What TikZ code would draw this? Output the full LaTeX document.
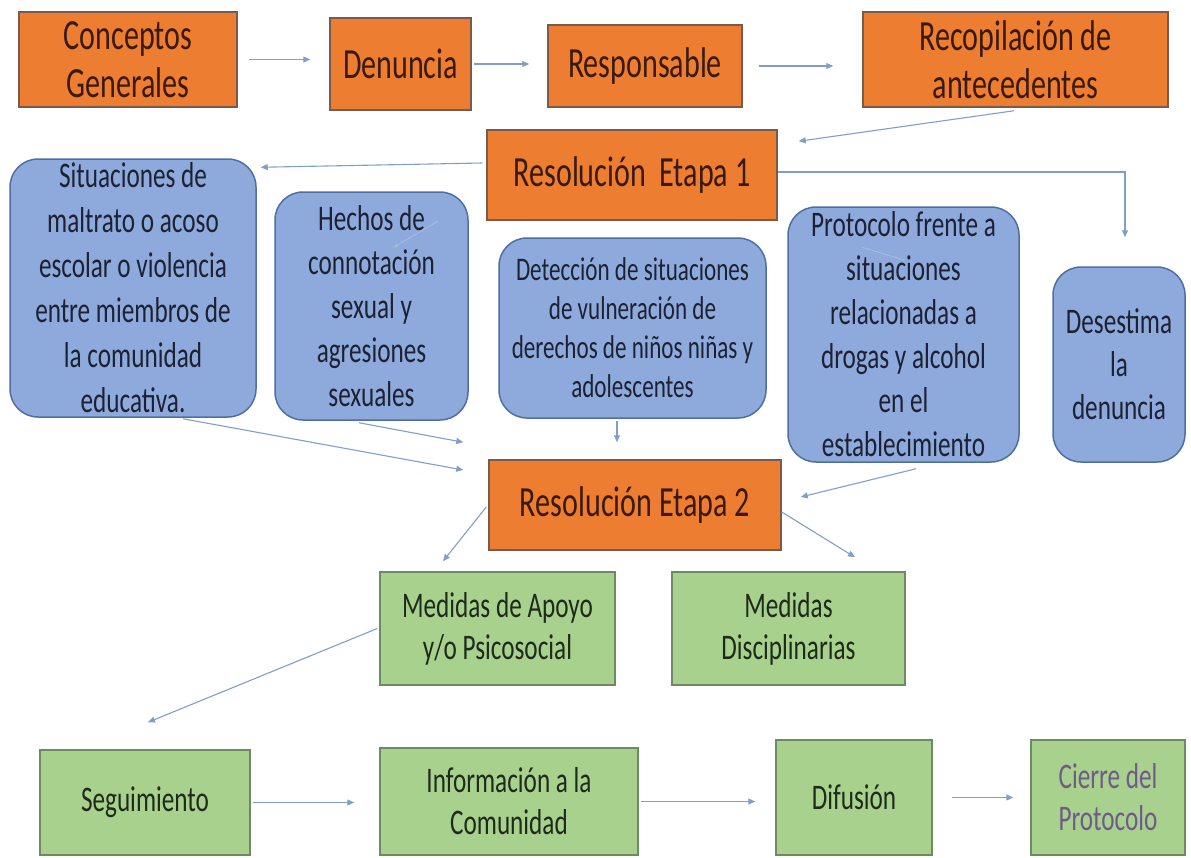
\documentclass[tikz,border=0pt]{standalone}
\usepackage{fontspec}
\setmainfont{Carlito}[FakeStretch=0.7]
\usetikzlibrary{arrows.meta}
\definecolor{ofill}{HTML}{ED7D31}
\definecolor{odraw}{HTML}{7A5A48}
\definecolor{otext}{HTML}{3A1A0E}
\definecolor{bfill}{HTML}{8EA9DB}
\definecolor{bdraw}{HTML}{4F6FA3}
\definecolor{btext}{HTML}{1C2233}
\definecolor{gfill}{HTML}{A9D18E}
\definecolor{gdraw}{HTML}{6E8A62}
\definecolor{gtext}{HTML}{1E2A1A}
\definecolor{ptext}{HTML}{6F5B8A}
\definecolor{arrc}{HTML}{7F9FC8}
\definecolor{faint}{HTML}{A9BEDF}
\tikzset{
  obox/.style={rectangle, fill=ofill, draw=odraw, line width=1.5pt, inner sep=0pt, align=center, text=otext, font=\fontsize{43}{48}\selectfont},
  bbox/.style={rectangle, rounded corners=28pt, fill=bfill, draw=bdraw, line width=1.5pt, inner sep=0pt, align=center, text=btext, font=\fontsize{36}{44}\selectfont},
  gbox/.style={rectangle, fill=gfill, draw=gdraw, line width=1.5pt, inner sep=0pt, align=center, text=gtext, font=\fontsize{36}{42}\selectfont},
  arr/.style={draw=arrc, line width=1.1pt, -{Triangle[length=7pt,width=6pt]}},
  stub/.style={draw=faint, line width=0.8pt}
}
\begin{document}
\begin{tikzpicture}[x=1pt,y=-1pt]
\useasboundingbox (0,0) rectangle (1191,857);
% top row
\node[obox, minimum width=218pt, minimum height=95pt] (concep) at (128,59.5) {Conceptos\\Generales};
\node[obox, minimum width=141pt, minimum height=92pt] (denun) at (400.5,64) {Denuncia};
\node[obox, minimum width=194pt, minimum height=82pt] (resp) at (645,66) {Responsable};
\node[obox, minimum width=305pt, minimum height=95pt] (recop) at (1015.5,59.5) {Recopilación de\\antecedentes};
\node[obox, minimum width=290pt, minimum height=90pt] (res1) at (632,175) {Resolución\ \ Etapa 1};
% blue
\node[bbox, minimum width=246pt, minimum height=258pt, font=\fontsize{36}{45}\selectfont] (sit) at (133,288) {Situaciones de\\maltrato o acoso\\escolar o violencia\\entre miembros de\\la comunidad\\educativa.};
\node[bbox, minimum width=193pt, minimum height=228pt] (hech) at (371.5,306) {Hechos de\\connotación\\sexual y\\agresiones\\sexuales};
\node[bbox, minimum width=267pt, minimum height=180pt, font=\fontsize{33}{39}\selectfont] (detec) at (632.5,328) {Detección de situaciones\\de vulneración de\\derechos de niños niñas y\\adolescentes};
\node[bbox, minimum width=231pt, minimum height=255pt] (proto) at (903.5,334.5) {Protocolo frente a\\situaciones\\relacionadas a\\drogas y alcohol\\en el\\establecimiento};
\node[bbox, minimum width=132pt, minimum height=195pt, font=\fontsize{36}{43}\selectfont] (deses) at (1119,364.5) {Desestima\\la\\denuncia};
% stage 2
\node[obox, minimum width=292pt, minimum height=90pt] (res2) at (635,505) {Resolución Etapa 2};
% green
\node[gbox, minimum width=235pt, minimum height=113pt] (ma) at (497.5,628.5) {Medidas de Apoyo\\y/o Psicosocial};
\node[gbox, minimum width=233pt, minimum height=113pt] (md) at (788.5,628.5) {Medidas\\Disciplinarias};
\node[gbox, minimum width=210pt, minimum height=105pt] (seg) at (145,802.5) {Seguimiento};
\node[gbox, minimum width=258pt, minimum height=107pt] (info) at (509,801.5) {Información a la\\Comunidad};
\node[gbox, minimum width=156pt, minimum height=115pt] (dif) at (854,797.5) {Difusión};
\node[gbox, minimum width=154pt, minimum height=115pt, text=ptext] (cier) at (1108,797.5) {Cierre del\\Protocolo};
% connectors
\draw[arr, shorten <=11pt, shorten >=19pt] (concep.east) -- (concep.east -| denun.west);
\draw[arr, shorten <=2pt, shorten >=18pt] (denun.east) -- (denun.east -| resp.west);
\draw[arr, shorten <=16pt, shorten >=29pt] (resp.east) -- (resp.east -| recop.west);
\draw[arr] ([xshift=-1.5pt,yshift=-3pt]recop.south) -- ([xshift=21pt,yshift=-12pt]res1.north east);
\draw[arr] ([xshift=-4pt,yshift=12pt]res1.west) -- ([xshift=4pt,yshift=-9pt]sit.north east);
\draw[arr] ([yshift=3pt]res1.east) -| ([xshift=6pt,yshift=29pt]deses.north);
\draw[arr] ([xshift=50pt,yshift=-1pt]sit.south) -- ([xshift=-25pt,yshift=35pt]res2.west);
\draw[arr] ([xshift=-12.5pt,yshift=-2pt]hech.south) -- ([xshift=-25pt,yshift=17pt]res2.north west);
\draw[arr] ([xshift=-15.5pt,yshift=-2pt]detec.south) -- ([xshift=-18pt,yshift=17pt]res2.north);
\draw[arr] ([xshift=12.5pt,yshift=-6pt]proto.south) -- ([xshift=19pt,yshift=8pt]res2.east);
\draw[arr] ([xshift=-2pt,yshift=-2pt]res2.west) -- ([xshift=-54.5pt,yshift=10pt]ma.north);
\draw[arr] ([yshift=-7pt]res2.east) -- ([xshift=66.5pt,yshift=14pt]md.north);
\draw[arr] ([xshift=-2pt]ma.west) -- ([xshift=3pt,yshift=27pt]seg.north);
\draw[arr, shorten <=2pt, shorten >=25pt] (seg.east) -- (seg.east -| info.west);
\draw[arr, shorten <=2pt, shorten >=20pt] (info.east) -- (info.east -| dif.west);
\draw[arr, shorten <=19pt, shorten >=17pt] (dif.east) -- (dif.east -| cier.west);
% faint stubs
\draw[stub, -{Triangle[length=4pt,width=3pt]}] ([xshift=-31pt,yshift=-30pt]hech.north east) -- ([xshift=-75pt,yshift=-56pt]hech.north east);
\draw[stub] ([xshift=-41.5pt,yshift=-41pt]proto.north) -- ([xshift=1.5pt,yshift=-54pt]proto.north);
\end{tikzpicture}
\end{document}
